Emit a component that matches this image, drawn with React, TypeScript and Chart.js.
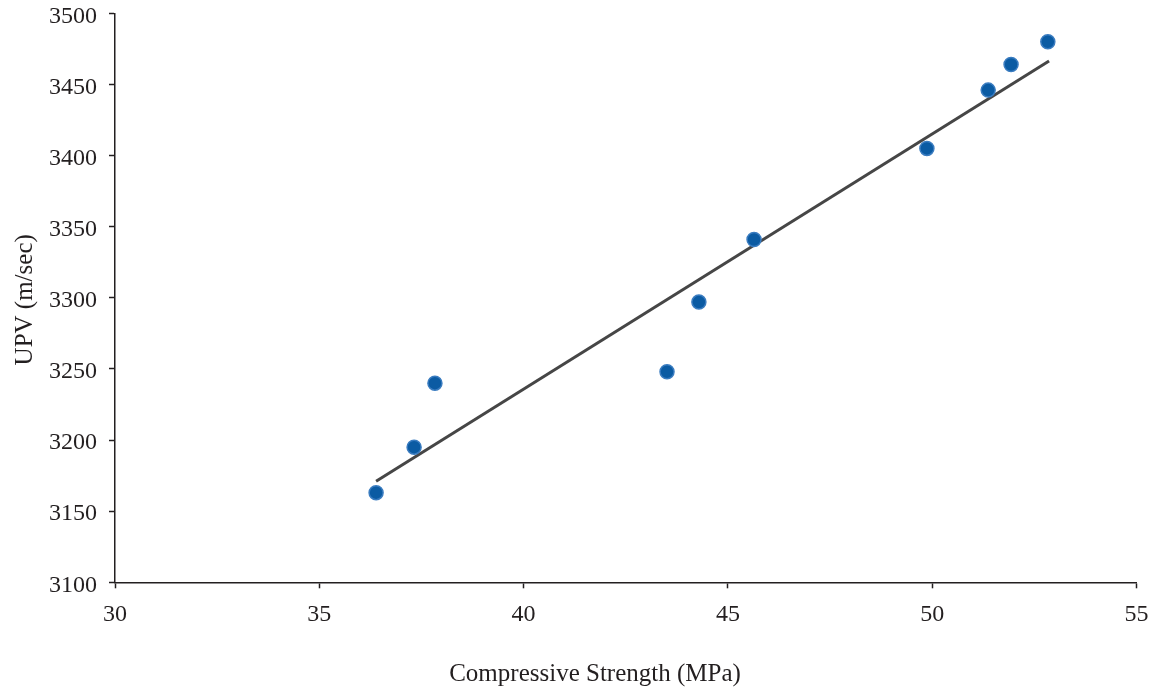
import React, { useEffect, useRef } from "react";
import { Chart, registerables } from "chart.js";

Chart.register(...registerables);

const strength: number[] = [36.39, 37.32, 37.83, 43.51, 44.29, 45.64, 49.87, 51.37, 51.93, 52.83];
const upv: number[] = [3163, 3195, 3240, 3248, 3297, 3341, 3405, 3446, 3464, 3480];
const trendX: number[] = [36.39, 52.86];
const trendY: number[] = [3171, 3466.5];
const xTitle = "Compressive Strength (MPa)";
const yTitle = "UPV (m/sec)";

const FONT = "'Liberation Serif', 'Times New Roman', serif";
const AXIS_COLOR = "#231f20";

const titlesPlugin = {
  id: "axisTitles",
  afterDraw(chart: any) {
    const ctx = chart.ctx;
    const area = chart.chartArea;
    ctx.save();
    ctx.fillStyle = AXIS_COLOR;
    ctx.font = `25px ${FONT}`;
    ctx.textAlign = "center";
    ctx.textBaseline = "alphabetic";
    ctx.fillText(xTitle, 595, 681);
    ctx.translate(25, (area.top + area.bottom) / 2 + 2);
    ctx.rotate(-Math.PI / 2);
    ctx.textBaseline = "middle";
    ctx.fillText(yTitle, 0, 0);
    ctx.restore();
  },
};

export default function App() {
  const canvasRef = useRef<HTMLCanvasElement | null>(null);

  useEffect(() => {
    if (!canvasRef.current) return;
    const chart = new Chart(canvasRef.current, {
      type: "scatter",
      data: {
        datasets: [
          {
            type: "line",
            label: "Trend",
            data: trendX.map((x, i) => ({ x, y: trendY[i] })),
            borderColor: "#464646",
            borderWidth: 3,
            pointRadius: 0,
            fill: false,
            order: 2,
          } as any,
          {
            label: "UPV",
            data: strength.map((x, i) => ({ x, y: upv[i] })),
            backgroundColor: "#0b5ba3",
            borderColor: "#3a7cc0",
            borderWidth: 1.5,
            pointRadius: 7,
            order: 1,
          },
        ],
      },
      options: {
        animation: false,
        responsive: true,
        maintainAspectRatio: false,
        layout: { padding: { left: 0, top: 13.3, right: 18.5, bottom: 0 } },
        plugins: {
          legend: { display: false },
          tooltip: { enabled: false },
        },
        scales: {
          x: {
            type: "linear",
            min: 30,
            max: 55,
            afterFit(scale: any) {
              scale.height = 108.7;
              scale.paddingLeft = 0;
              scale.paddingRight = 0;
            },
            ticks: {
              stepSize: 5,
              color: AXIS_COLOR,
              padding: 12,
              font: { family: FONT, size: 24 },
              callback: (v: any) => String(v),
            },
            grid: {
              drawOnChartArea: false,
              drawTicks: true,
              tickLength: 6,
              tickColor: AXIS_COLOR,
              tickWidth: 1.5,
            },
            border: { display: true, color: AXIS_COLOR, width: 1.5 },
          },
          y: {
            type: "linear",
            min: 3100,
            max: 3500,
            afterFit(scale: any) {
              scale.width = 115;
              scale.paddingTop = 0;
              scale.paddingBottom = 0;
            },
            ticks: {
              stepSize: 50,
              color: AXIS_COLOR,
              padding: 12,
              labelOffset: 3,
              font: { family: FONT, size: 24 },
              callback: (v: any) => String(v),
            },
            grid: {
              drawOnChartArea: false,
              drawTicks: true,
              tickLength: 6,
              tickColor: AXIS_COLOR,
              tickWidth: 1.5,
            },
            border: { display: true, color: AXIS_COLOR, width: 1.5 },
          },
        },
      },
      plugins: [titlesPlugin],
    });
    return () => chart.destroy();
  }, []);

  return (
    <div style={{ position: "fixed", left: 0, top: 0, width: 1155, height: 691, background: "#fff" }}>
      <canvas ref={canvasRef} />
    </div>
  );
}
